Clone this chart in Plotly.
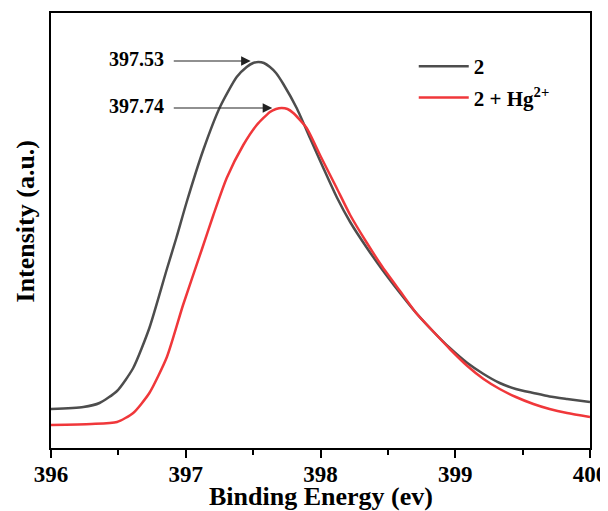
import plotly.graph_objects as go

# Binding energy (eV) and intensity (a.u.)
x_black = [396.00, 396.24, 396.36, 396.49, 396.61, 396.73, 396.86, 396.93, 397.007, 397.13,
           397.254, 397.378, 397.452, 397.50, 397.539, 397.58, 397.625, 397.67, 397.724, 397.823,
           397.922, 398.021, 398.12, 398.22, 398.34, 398.46, 398.59, 398.71, 398.84, 398.96,
           399.09, 399.21, 399.33, 399.45, 399.58, 399.70, 399.83, 400.00]
y_black = [39, 41, 45, 57, 80, 120, 179, 210, 246, 298,
           341, 371, 381, 385, 386, 385, 381, 375, 364, 340,
           310, 280, 251, 226, 201, 178, 155, 135, 116, 100,
           85, 74, 65, 59, 55, 51.5, 49, 46]

x_red = [396.00, 396.30, 396.49, 396.61, 396.73, 396.86, 396.98, 397.118, 397.205, 397.304,
         397.427, 397.527, 397.625, 397.67, 397.712, 397.755, 397.798, 397.897, 397.996, 398.12,
         398.22, 398.34, 398.46, 398.59, 398.71, 398.84, 398.96, 399.09, 399.21, 399.33,
         399.45, 399.58, 399.70, 399.83, 400.00]
y_red = [23, 24, 26, 35, 55, 91, 143, 198, 233, 270,
         303, 323, 336, 339, 340, 339, 335, 320, 293, 260,
         233, 206, 181, 157, 135, 116, 99, 82, 69, 59,
         51, 44, 39, 35, 31]

peak_labels = ["397.53", "397.74"]
peak_tips_x = [397.482, 397.642]
peak_tips_y = [387, 340]
arrow_tail_x = 396.90

FONT = "Liberation Serif"

fig = go.Figure()
fig.add_trace(go.Scatter(x=x_black, y=y_black, mode="lines", name="2", legendgroup="a",
                         line=dict(color="#4d4d4d", width=2.5, shape="spline", smoothing=0.6)))
fig.add_trace(go.Scatter(x=x_red, y=y_red, mode="lines", name="2 + Hg<sup>2+</sup>", legendgroup="b",
                         line=dict(color="#f0373a", width=2.5, shape="spline", smoothing=0.6)))

for lab, tx, ty in zip(peak_labels, peak_tips_x, peak_tips_y):
    fig.add_annotation(x=tx, y=ty, ax=arrow_tail_x, ay=ty, xref="x", yref="y",
                       axref="x", ayref="y", text="", showarrow=True,
                       arrowhead=2, arrowsize=1.6, arrowwidth=1.2, arrowcolor="#222222")
    fig.add_annotation(x=arrow_tail_x - 0.045, y=ty + 2, xref="x", yref="y", text=lab,
                       showarrow=False, xanchor="right", yanchor="middle",
                       font=dict(family=FONT, size=20, color="black", weight="bold"))

fig.add_annotation(x=0.5, y=-0.111, xref="paper", yref="paper",
                   text="Binding Energy (ev)", showarrow=False,
                   xanchor="center", yanchor="middle",
                   font=dict(family=FONT, size=26, color="black", weight="bold"))
fig.add_annotation(x=-0.048, y=0.521, xref="paper", yref="paper",
                   text="Intensity (a.u.)", showarrow=False, textangle=-90,
                   xanchor="center", yanchor="middle",
                   font=dict(family=FONT, size=26, color="black", weight="bold"))

# page body has an 8px margin: the figure is sized so that the plot lands where the reference has it
fig.update_layout(
    width=600, height=503,
    margin=dict(l=43, r=18, t=5, b=63, autoexpand=False),
    plot_bgcolor="white", paper_bgcolor="white",
    font=dict(family=FONT, color="black", weight="bold"),
    legend=dict(x=0.673, y=0.924, xanchor="left", yanchor="top",
                bgcolor="rgba(0,0,0,0)", font=dict(family=FONT, size=21, weight="bold"),
                tracegroupgap=1, itemwidth=50),
    xaxis=dict(range=[396, 400], tickvals=[396, 397, 398, 399, 400],
               ticktext=["396", "397", "398", "399", "400"], automargin=False,
               showline=True, linecolor="black", linewidth=2, mirror=True,
               ticks="outside", ticklen=8, tickwidth=2, tickcolor="black",
               minor=dict(dtick=0.5, ticks="outside", ticklen=5, tickwidth=2, tickcolor="black"),
               showgrid=False, zeroline=False, ticklabelstandoff=-4,
               tickfont=dict(family=FONT, size=23, weight="bold")),
    yaxis=dict(range=[0, 435], showline=True, linecolor="black", linewidth=2, mirror=True,
               showticklabels=False, ticks="", showgrid=False, zeroline=False, automargin=False),
)

fig.write_html("out.html")
